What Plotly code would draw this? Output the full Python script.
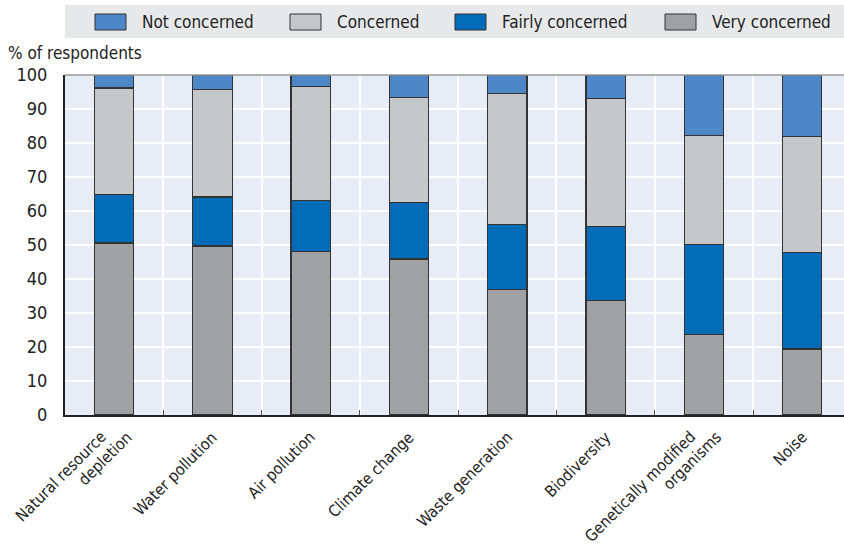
import plotly.graph_objects as go

# Environmental concerns, share of respondents by level of concern
categories = [
    "Natural resource<br>depletion",
    "Water pollution",
    "Air pollution",
    "Climate change",
    "Waste generation",
    "Biodiversity",
    "Genetically modified<br>organisms",
    "Noise",
]
very_concerned = [50.6, 49.7, 48.1, 45.9, 37.0, 33.7, 23.7, 19.4]
fairly_concerned = [14.3, 14.4, 14.9, 16.5, 19.1, 21.7, 26.5, 28.4]
concerned = [31.3, 31.7, 33.6, 31.0, 38.5, 37.8, 31.9, 34.1]
not_concerned = [3.8, 4.2, 3.4, 6.6, 5.4, 6.8, 17.9, 18.1]

# stacked bottom to top
series = [
    ("Very concerned", very_concerned, "#A0A1A3"),
    ("Fairly concerned", fairly_concerned, "#006BB6"),
    ("Concerned", concerned, "#C6C7C9"),
    ("Not concerned", not_concerned, "#4E87C7"),
]
legend_order = ["Not concerned", "Concerned", "Fairly concerned", "Very concerned"]

FONT = "Liberation Sans Narrow, DejaVu Sans Condensed, Roboto Condensed, Arial Narrow, sans-serif"
W, H = 844, 545
ML, MR, MT, MB = 65, 0, 75, 130
PW, PH = W - ML - MR, H - MT - MB

fig = go.Figure()
for name, vals, color in series:
    fig.add_trace(go.Bar(
        x=categories, y=vals, name=name,
        marker=dict(color=color, line=dict(color="#333333", width=1.2)),
        width=0.4, showlegend=False,
    ))


def px_x(p):
    return (p - ML) / PW


def px_y(p):
    return (H - MB - p) / PH


shapes = [
    # legend band
    dict(type="rect", xref="paper", yref="paper",
         x0=0, x1=px_x(844), y0=px_y(38), y1=px_y(5),
         fillcolor="#E7E8EA", line=dict(width=0), layer="below"),
    # top frame line
    dict(type="line", xref="paper", yref="paper", x0=0, x1=1, y0=1, y1=1,
         line=dict(color="#9A9A9A", width=1.5)),
]
annotations = []
swatch_left = [95, 290, 455, 665]
colors = {n: c for n, _, c in series}
for name, sx in zip(legend_order, swatch_left):
    shapes.append(dict(type="rect", xref="paper", yref="paper",
                       x0=px_x(sx), x1=px_x(sx + 31), y0=px_y(30), y1=px_y(14),
                       fillcolor=colors[name], line=dict(color="#333333", width=1)))
    annotations.append(dict(xref="paper", yref="paper", x=px_x(sx + 45), y=px_y(22),
                            text=name, showarrow=False, xanchor="left", yanchor="middle",
                            font=dict(family=FONT, size=17, color="#222222")))

annotations.append(dict(xref="paper", yref="paper", x=px_x(6), y=px_y(53),
                        text="% of respondents", showarrow=False,
                        xanchor="left", yanchor="middle",
                        font=dict(family=FONT, size=17, color="#222222")))

# Category labels: each line rotated on its own, line ends sharing one baseline
LABEL_DX, LABEL_DY = 10, 11
LINE_STEP = 26
for cat in categories:
    lines = cat.split("<br>")
    n = len(lines)
    for j, line in enumerate(lines):
        offset = (j - (n - 1) / 2) * LINE_STEP
        annotations.append(dict(
            xref="x", yref="paper", x=cat, y=0,
            text=line, showarrow=False, textangle=-45,
            xanchor="right", yanchor="top", borderpad=0,
            xshift=LABEL_DX + offset, yshift=-LABEL_DY,
            font=dict(family=FONT, size=16, color="#222222"),
        ))

fig.update_layout(
    width=W, height=H,
    margin=dict(l=ML, r=MR, t=MT, b=MB),
    barmode="stack", bargap=0.6,
    paper_bgcolor="white", plot_bgcolor="#E8ECF6",
    font=dict(family=FONT, size=17, color="#222222"),
    shapes=shapes, annotations=annotations,
    xaxis=dict(
        type="category", categoryorder="array", categoryarray=categories,
        range=[-0.5, 7.425], tickson="boundaries",
        automargin=False, showticklabels=False,
        showgrid=True, gridcolor="white", gridwidth=1.5,
        showline=True, linecolor="#222222", linewidth=2,
        ticks="inside", ticklen=5, tickcolor="#555555", tickwidth=1,
        zeroline=False,
    ),
    yaxis=dict(
        range=[0, 100], tickvals=list(range(0, 101, 10)),
        automargin=False,
        showgrid=True, gridcolor="white", gridwidth=1.5,
        showline=True, linecolor="#222222", linewidth=2,
        ticks="", ticklabelstandoff=12, zeroline=False,
        tickfont=dict(family=FONT, size=18, color="#222222"),
    ),
)

fig.write_html("out.html")
